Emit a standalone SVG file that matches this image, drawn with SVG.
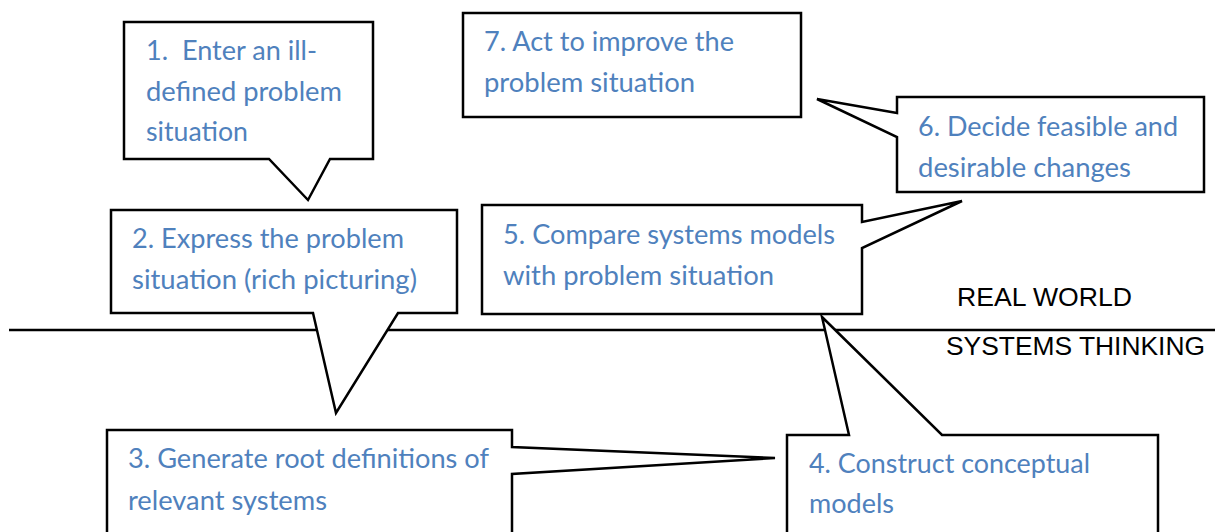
<svg xmlns="http://www.w3.org/2000/svg" width="1215" height="532" viewBox="0 0 1215 532">
<style>
.box{fill:#ffffff;stroke:#000000;stroke-width:2.5;stroke-linejoin:miter}
.t{font-family:"Lato","Liberation Sans",sans-serif;font-size:26px;fill:#4F81BD}
.lbl{font-family:"Liberation Sans",Arial,sans-serif;font-size:25px;fill:#000000}
.sep{stroke:#000000;stroke-width:2.5}
</style>
<rect width="1215" height="532" fill="#ffffff"/>
<g id="connectors">
<line class="sep" x1="9" y1="330" x2="1215" y2="330"/>
</g>
<g id="labels">
<text class="lbl" x="957" y="306" textLength="175" lengthAdjust="spacingAndGlyphs">REAL WORLD</text>
<text class="lbl" x="946" y="355" textLength="259" lengthAdjust="spacingAndGlyphs">SYSTEMS THINKING</text>
</g>
<g id="node1">
<path class="box" d="M124,22 H373 V159 H330 L308,200 L269,159 H124 Z"/>
<text class="t" x="146" y="60" textLength="171" lengthAdjust="spacingAndGlyphs" xml:space="preserve">1.  Enter an ill-</text>
<text class="t" x="146" y="101" textLength="196" lengthAdjust="spacingAndGlyphs">defined problem</text>
<text class="t" x="146" y="141" textLength="102" lengthAdjust="spacingAndGlyphs">situation</text>
</g>
<g id="node7">
<rect class="box" x="463" y="13" width="338" height="104"/>
<text class="t" x="484" y="51" textLength="250" lengthAdjust="spacingAndGlyphs">7. Act to improve the</text>
<text class="t" x="484" y="92" textLength="211" lengthAdjust="spacingAndGlyphs">problem situation</text>
</g>
<g id="node6">
<path class="box" d="M897,97 H1204 V192 H897 V137 L817,99 L897,113 Z"/>
<text class="t" x="918" y="136" textLength="260" lengthAdjust="spacingAndGlyphs">6. Decide feasible and</text>
<text class="t" x="918" y="177" textLength="213" lengthAdjust="spacingAndGlyphs">desirable changes</text>
</g>
<g id="node5">
<path class="box" d="M482,205 H862 V222 L962,201 L862,248 V314 H482 Z"/>
<text class="t" x="503" y="244" textLength="332" lengthAdjust="spacingAndGlyphs">5. Compare systems models</text>
<text class="t" x="503" y="285" textLength="271" lengthAdjust="spacingAndGlyphs">with problem situation</text>
</g>
<g id="node2">
<path class="box" d="M111,210 H457 V313 H398 L336,413 L313,313 H111 Z"/>
<text class="t" x="132" y="248" textLength="272" lengthAdjust="spacingAndGlyphs">2. Express the problem</text>
<text class="t" x="132" y="289" textLength="285" lengthAdjust="spacingAndGlyphs">situation (rich picturing)</text>
</g>
<g id="node3">
<path class="box" d="M107,430 H512 V447 L775,458 L512,474 V545 H107 Z"/>
<text class="t" x="128" y="468" textLength="361" lengthAdjust="spacingAndGlyphs">3. Generate root definitions of</text>
<text class="t" x="128" y="510" textLength="199" lengthAdjust="spacingAndGlyphs">relevant systems</text>
</g>
<g id="node4">
<path class="box" d="M787,435 H849 L822,317 L942,435 H1158 V545 H787 Z"/>
<text class="t" x="809" y="473" textLength="281" lengthAdjust="spacingAndGlyphs">4. Construct conceptual</text>
<text class="t" x="809" y="513" textLength="85" lengthAdjust="spacingAndGlyphs">models</text>
</g>
</svg>
